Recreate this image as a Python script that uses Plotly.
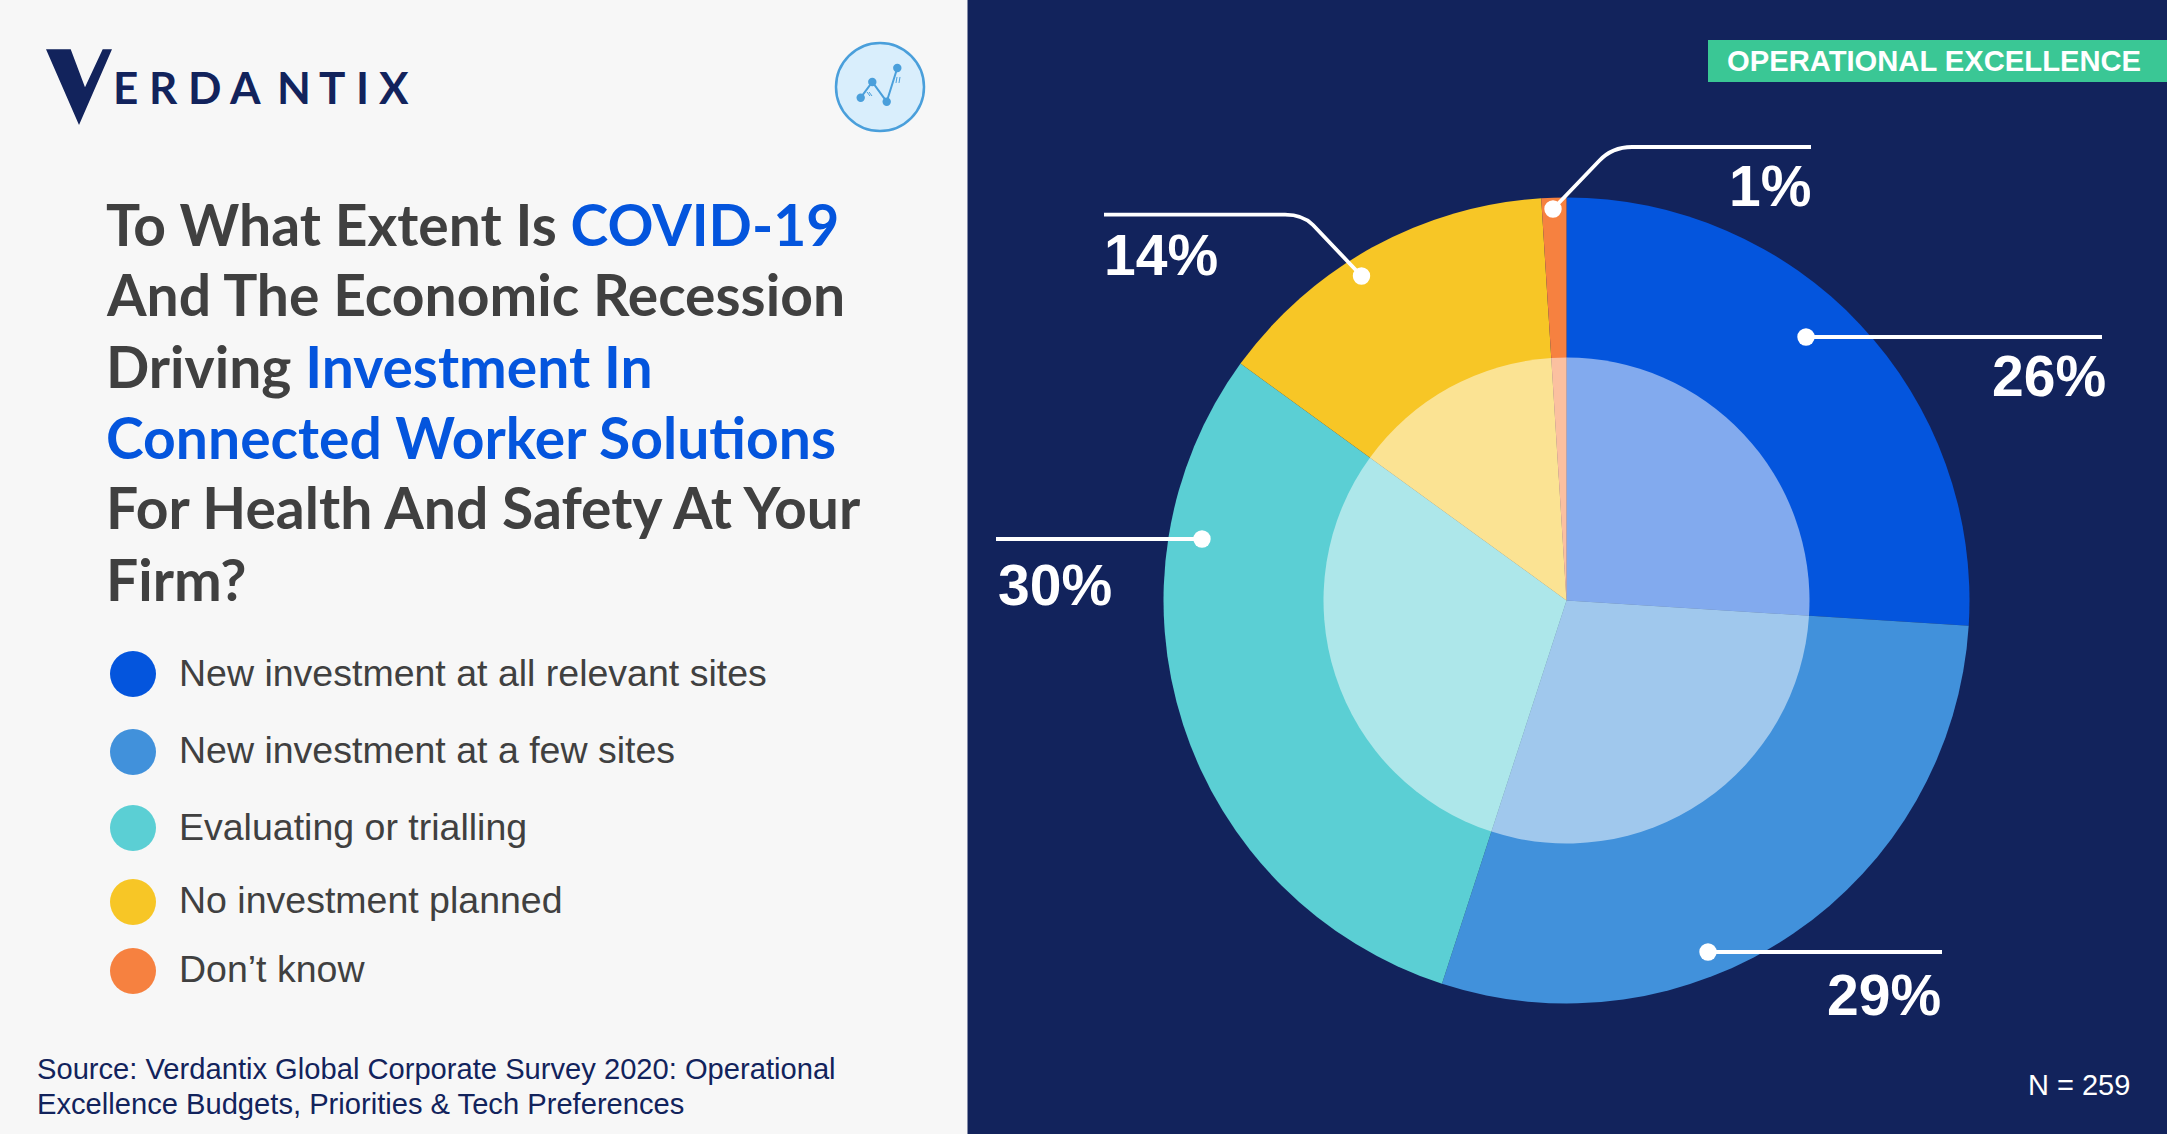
import plotly.graph_objects as go

W, H = 2167, 1134

# ---- data ----
categories = ["New investment at all relevant sites", "New investment at a few sites",
              "Evaluating or trialling", "No investment planned", "Don\u2019t know"]
shares = [26, 29, 30, 14, 1]
slice_colors = ["#0455DD", "#4191DB", "#5BCFD4", "#F7C626", "#F68140"]
sample_note = "N = 259"
tag_text = "OPERATIONAL EXCELLENCE"
source_lines = ["Source: Verdantix Global Corporate Survey 2020: Operational",
                "Excellence Budgets, Priorities &amp; Tech Preferences"]
DARK, BLUE = "#404040", "#0455DD"
title_lines = [
    [("To What Extent Is ", DARK), ("COVID-19", BLUE)],
    [("And The Economic Recession", DARK)],
    [("Driving ", DARK), ("Investment In", BLUE)],
    [("Connected Worker Solutions", BLUE)],
    [("For Health And Safety At Your", DARK)],
    [("Firm?", DARK)],
]
title_y = [224, 294, 366, 437, 507, 579]
legend_y = [674, 752, 828, 902, 971]
legend_text_y = [673, 750, 827, 900, 969]
logo_letters = list("ERDANTIX")
logo_x = [125, 163, 204, 245, 294, 332, 362, 394]


def X(p):
    return p / W


def Y(p):
    return 1 - p / H


def P(points):
    return "M" + " L".join(f"{X(a):.5f},{Y(b):.5f}" for a, b in points)


NAVY = "#12235C"
cx, cy, R, r = 1566.5, 600.5, 403, 243

fig = go.Figure()
fig.add_trace(go.Pie(labels=categories, values=shares, sort=False, direction="clockwise", rotation=0,
                     marker=dict(colors=slice_colors, line=dict(width=0)), textinfo="none",
                     domain=dict(x=[X(cx - R), X(cx + R)], y=[Y(cy + R), Y(cy - R)]), showlegend=False))
fig.add_trace(go.Pie(labels=categories, values=shares, sort=False, direction="clockwise", rotation=0,
                     marker=dict(colors=["rgba(255,255,255,0.5)"] * 5, line=dict(width=0)), textinfo="none",
                     domain=dict(x=[X(cx - r), X(cx + r)], y=[Y(cy + r), Y(cy - r)]), showlegend=False))

shapes = []


def rect(x0, y0, x1, y1, fill, layer="below"):
    shapes.append(dict(type="rect", xref="paper", yref="paper", x0=X(x0), x1=X(x1), y0=Y(y0), y1=Y(y1),
                       fillcolor=fill, line=dict(width=0), layer=layer))


def circle(x, y, rad, fill, line=None, lw=0, layer="above"):
    shapes.append(dict(type="circle", xref="paper", yref="paper", x0=X(x - rad), x1=X(x + rad),
                       y0=Y(y + rad), y1=Y(y - rad), fillcolor=fill,
                       line=dict(width=lw, color=line or fill), layer=layer))


def path(d, color="#FFFFFF", lw=3.8, fill=None):
    s = dict(type="path", xref="paper", yref="paper", path=d, line=dict(width=lw, color=color), layer="above")
    if fill:
        s["fillcolor"] = fill
    shapes.append(s)


rect(0, 0, 967.5, H, "#F7F7F7")
rect(967.5, 0, W, H, NAVY)
rect(1708, 40, W, 82, "#3AC795")

# logo V
path(P([(46, 49.3), (70.7, 49.3), (85, 87.3), (102.7, 49.3), (112, 49.3), (79, 125)]) + " Z", NAVY, 0, NAVY)
# icon
circle(880, 87, 44, "#D9EEFC", "#4A9FDB", 2.5)
icon = [(860.7, 97.7), (872.3, 82), (886.7, 101.7), (897.3, 68)]
path(P(icon), "#4A9FDB", 2)
for a, b in icon:
    circle(a, b, 4.2, "#4A9FDB")
path(P([(867, 92), (870, 96)]), "#4A9FDB", 1)
path(P([(869, 92), (872, 96)]), "#4A9FDB", 1)
path(P([(897, 77), (896, 83)]), "#4A9FDB", 1)
path(P([(900, 77), (899, 83)]), "#4A9FDB", 1)

# leader lines
path(P([(1553, 209), (1599, 161)]) + f" Q{X(1612):.5f},{Y(147):.5f} {X(1632):.5f},{Y(147):.5f} L{X(1811):.5f},{Y(147):.5f}")
path(P([(1361.5, 276), (1313, 225)]) + f" Q{X(1303):.5f},{Y(214.7):.5f} {X(1285):.5f},{Y(214.7):.5f} L{X(1104):.5f},{Y(214.7):.5f}")
path(P([(1806, 337), (2102, 337)]))
path(P([(1202, 539), (996, 539)]))
path(P([(1708, 952), (1942, 952)]))
for a, b in [(1553, 209), (1361.5, 276), (1806, 337), (1202, 539), (1708, 952)]:
    circle(a, b, 8.7, "#FFFFFF")

# legend circles
for yy, col in zip(legend_y, slice_colors):
    circle(133, yy, 23, col, layer="below")

fig.update_layout(shapes=shapes)

SANS = "Liberation Sans"


def note(x, y, text, size, color, anchor="left", family=SANS):
    fig.add_annotation(xref="paper", yref="paper", x=X(x), y=Y(y), text=text, showarrow=False,
                       xanchor=anchor, yanchor="middle", align=anchor,
                       font=dict(size=size, color=color, family=family), borderpad=0, borderwidth=0)


for letter, xx in zip(logo_letters, logo_x):
    note(xx, 87, f"<b>{letter}</b>", 44, NAVY, "center", "Lato")

for line, yy in zip(title_lines, title_y):
    txt = "".join(f'<span style="color:{c}"><b>{t}</b></span>' for t, c in line)
    note(106, yy, txt, 57, DARK, "left", "Lato")

for label, yy in zip(categories, legend_text_y):
    note(179, yy, label, 37.5, "#404040")

for line, yy in zip(source_lines, [1068.5, 1103.5]):
    note(37, yy, line, 29.15, NAVY)

note(2130, 1085, sample_note, 29, "#FFFFFF", "right")
note(1934, 61, f"<b>{tag_text}</b>", 29.2, "#FFFFFF", "center")

label_pos = [(2106, 376, "right"), (1941, 995, "right"), (998, 585, "left"), (1104, 255, "left"), (1811, 186, "right")]
for v, (a, b, anc) in zip(shares, label_pos):
    note(a, b, f"<b>{v}%</b>", 57, "#FFFFFF", anc)

fig.update_layout(width=W, height=H, margin=dict(l=0, r=0, t=0, b=0), paper_bgcolor="#F7F7F7",
                  plot_bgcolor="#F7F7F7", showlegend=False)
fig.write_html("out.html", config=dict(displayModeBar=False),
               post_script="document.body.style.margin='0';document.body.style.overflow='hidden';")
